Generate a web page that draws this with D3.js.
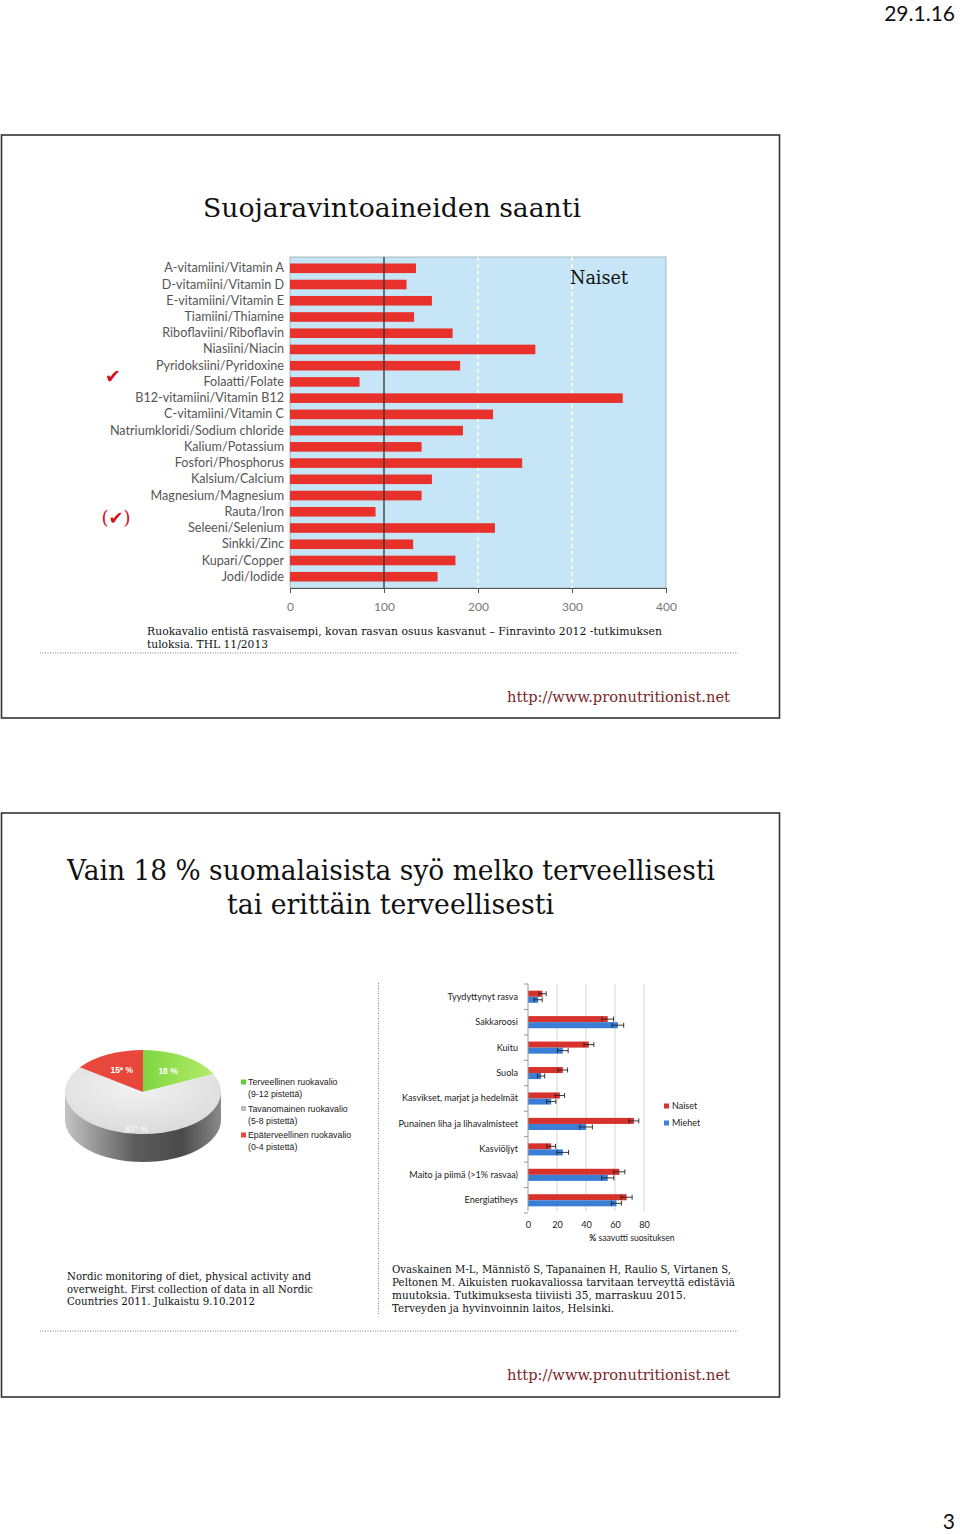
<!DOCTYPE html>
<html><head><meta charset="utf-8">
<script src="https://cdn.jsdelivr.net/npm/d3@7/dist/d3.min.js"></script>
<style>body{margin:0;background:#fff}svg{display:block}</style>
</head><body>
<svg id="c" width="960" height="1534"></svg>
<script>
// ---------- DATA ----------
const nutrients = ["A-vitamiini/Vitamin A","D-vitamiini/Vitamin D","E-vitamiini/Vitamin E","Tiamiini/Thiamine",
  "Riboflaviini/Riboflavin","Niasiini/Niacin","Pyridoksiini/Pyridoxine","Folaatti/Folate",
  "B12-vitamiini/Vitamin B12","C-vitamiini/Vitamin C","Natriumkloridi/Sodium chloride","Kalium/Potassium",
  "Fosfori/Phosphorus","Kalsium/Calcium","Magnesium/Magnesium","Rauta/Iron","Seleeni/Selenium",
  "Sinkki/Zinc","Kupari/Copper","Jodi/Iodide"];
const intake = [134,124,151,132,173,261,181,74,354,216,184,140,247,151,140,91,218,131,176,157];
const intakeTicks = [0,100,200,300,400];

const foodCats = ["Tyydyttynyt rasva","Sakkaroosi","Kuitu","Suola","Kasvikset, marjat ja hedelmät",
  "Punainen liha ja lihavalmisteet","Kasviöljyt","Maito ja piimä (>1% rasvaa)","Energiatiheys"];
const naiset = [10,55,42,24,22,73,16,63,68];
const miehet = [7,62,24,9,16,40,24,55,61];
const naisetErr = [2.5,4,3.4,3.3,3.2,3.4,3,3.8,3.8];
const miehetErr = [2.8,4,3.7,2.5,3.2,4.4,4,4.2,3.4];
const foodTicks = [0,20,40,60,80];
const seriesNames = ["Naiset","Miehet"];

const pieValues = [18,67,15];
const pieLabels = ["18 %","67* %","15* %"];
const pieLegend = [["Terveellinen ruokavalio","(9-12 pistettä)"],
                   ["Tavanomainen ruokavalio","(5-8 pistettä)"],
                   ["Epäterveellinen ruokavalio","(0-4 pistettä)"]];

// ---------- HELPERS ----------
const svg = d3.select("#c");
const SERIF = "'DejaVu Serif', 'Liberation Serif', serif";
const SANS = "Lato, 'Open Sans', sans-serif";
const NARROW = "'Liberation Sans Narrow', 'Liberation Sans', sans-serif";
function fit(g, x, y, str, len, size, opts = {}) {
  const t = g.append("text").attr("x", x).attr("y", y).text(str)
    .attr("font-family", opts.family || SERIF).attr("font-size", size)
    .attr("fill", opts.fill || "#111").attr("dy", "0.35em");
  if (len) t.attr("textLength", len).attr("lengthAdjust", "spacingAndGlyphs");
  return t;
}

const defs = svg.append("defs");

// page header / footer
svg.append("text").attr("x", 955).attr("y", 14).attr("dy","0.35em").attr("text-anchor","end")
  .attr("font-family", SANS).attr("font-size", 21).attr("fill","#111").text("29.1.16");
svg.append("text").attr("x", 955).attr("y", 1522).attr("dy","0.35em").attr("text-anchor","end")
  .attr("font-family", SANS).attr("font-size", 21).attr("fill","#111").text("3");

// slide frames
[[135,718],[813,1397]].forEach(([t,b]) => {
  svg.append("rect").attr("x",1.5).attr("y",t).attr("width",778).attr("height",b-t)
    .attr("fill","#fff").attr("stroke","#333").attr("stroke-width",1.6);
});
[653,1331].forEach(y => svg.append("line").attr("x1",40).attr("x2",738).attr("y1",y).attr("y2",y)
  .attr("stroke","#777").attr("stroke-width",1).attr("stroke-dasharray","1,1.5"));

// ---------- SLIDE 1 ----------
const s1 = svg.append("g");
fit(s1, 203, 208, "Suojaravintoaineiden saanti", 378, 26);

const x1 = d3.scaleLinear().domain([0,400]).range([290,666]);
const y1 = d3.scaleBand().domain(nutrients).range([257,588]).paddingInner(0.41).paddingOuter(0.4);

s1.append("rect").attr("x", x1(0)).attr("y",257).attr("width", x1(400)-x1(0)).attr("height",331)
  .attr("fill","#c6e5f6").attr("stroke","#9aa").attr("stroke-width",0.8);
// dashed white grid
s1.selectAll(".g1").data([200,300]).join("line")
  .attr("x1",d=>x1(d)).attr("x2",d=>x1(d)).attr("y1",257).attr("y2",588)
  .attr("stroke","#fff").attr("stroke-width",1.5).attr("stroke-dasharray","4,3");
// bars
s1.selectAll(".bar1").data(nutrients).join("rect")
  .attr("x", x1(0)).attr("y", d=>y1(d)).attr("height", y1.bandwidth())
  .attr("width", (d,i)=>x1(intake[i])-x1(0)).attr("fill","#e8312b");
// 100 line
s1.append("line").attr("x1",x1(100)).attr("x2",x1(100)).attr("y1",257).attr("y2",588)
  .attr("stroke","#333").attr("stroke-width",1.3);
// axes
const ax1 = s1.append("g").attr("transform","translate(0,588)")
  .call(d3.axisBottom(x1).tickValues(intakeTicks).tickSize(5).tickPadding(9));
ax1.select(".domain").attr("stroke","#555");
ax1.selectAll(".tick line").attr("stroke","#555");
ax1.selectAll("text").attr("font-family",SANS).attr("font-size",12).attr("fill","#777");
const ay1 = s1.append("g").attr("transform","translate(284,0)")
  .call(d3.axisLeft(y1).tickSize(0).tickPadding(0));
ay1.select(".domain").remove();
ay1.selectAll("text").attr("font-family",SANS).attr("font-size",12.6).attr("fill","#555");

fit(s1, 570, 278, "Naiset", 58, 18);
// checkmarks
s1.append("text").attr("x",113).attr("y",376).attr("dy","0.35em").attr("text-anchor","middle")
  .attr("font-family","'DejaVu Sans'").attr("font-size",19).attr("fill","#d0101a").text("✔");
s1.append("text").attr("x",116).attr("y",518).attr("dy","0.35em").attr("text-anchor","middle")
  .attr("font-family",SERIF).attr("font-size",18).attr("fill","#d0101a")
  .html('(<tspan font-family="DejaVu Sans">✔</tspan>)');

fit(s1, 147, 631, "Ruokavalio entistä rasvaisempi, kovan rasvan osuus kasvanut – Finravinto 2012 -tutkimuksen", 515, 11);
fit(s1, 147, 644, "tuloksia. THL 11/2013", 121, 11);
fit(s1, 507, 697, "http://www.pronutritionist.net", 223, 15, {fill:"#7a2626"});

// ---------- SLIDE 2 ----------
const s2 = svg.append("g");
fit(s2, 67, 870, "Vain 18 % suomalaisista syö melko terveellisesti", 648, 28);
fit(s2, 227, 904, "tai erittäin terveellisesti", 327, 28);

s2.append("line").attr("x1",378.5).attr("x2",378.5).attr("y1",983).attr("y2",1315)
  .attr("stroke","#888").attr("stroke-dasharray","1,1.5");

// pie
const cx = 143, cy = 1092, rx = 78, ry = 42, depth = 28;
const sideGrad = defs.append("linearGradient").attr("id","side").attr("x1","0").attr("x2","1");
[["0%","#c4c4c4"],["45%","#5c5c5c"],["75%","#4a4a4a"],["100%","#8a8a8a"]]
  .forEach(([o,c])=>sideGrad.append("stop").attr("offset",o).attr("stop-color",c));
const topGrad = defs.append("radialGradient").attr("id","grayTop").attr("cx","0.45").attr("cy","0.3").attr("r","0.8");
[["0%","#f2f2f2"],["100%","#d8d8d8"]].forEach(([o,c])=>topGrad.append("stop").attr("offset",o).attr("stop-color",c));
const greenGrad = defs.append("linearGradient").attr("id","greenTop").attr("x1","0").attr("x2","1").attr("y1","0").attr("y2","0");
[["0%","#7fd640"],["100%","#b4ec6a"]].forEach(([o,c])=>greenGrad.append("stop").attr("offset",o).attr("stop-color",c));

s2.append("path")
  .attr("d", `M${cx-rx},${cy} L${cx-rx},${cy+depth} A${rx},${ry} 0 0 0 ${cx+rx},${cy+depth} L${cx+rx},${cy} Z`)
  .attr("fill","url(#side)");
const pieColors = ["url(#greenTop)","url(#grayTop)","#e8473c"];
const pie = d3.pie().sort(null)(pieValues);
const arc = d3.arc().innerRadius(0).outerRadius(rx);
const pg = s2.append("g").attr("transform",`translate(${cx},${cy}) scale(1,${ry/rx})`);
pg.selectAll("path").data(pie).join("path").attr("d",arc).attr("fill",(d,i)=>pieColors[i]);
const labelR = [0.6,0.88,0.6];
pie.forEach((d,i)=>{
  const a = (d.startAngle+d.endAngle)/2, r = rx*labelR[i];
  s2.append("text").attr("x", cx + r*Math.sin(a)).attr("y", cy - r*Math.cos(a)*ry/rx)
    .attr("dy","0.35em").attr("text-anchor","middle").attr("font-family",NARROW)
    .attr("font-weight","bold").attr("font-size",8.5).attr("fill", i===1?"#f4f4f4":"#fff").text(pieLabels[i]);
});
const legColors = ["#5bcf3a","#bdbdbd","#e8473c"];
pieLegend.forEach((l,i)=>{
  const y0 = 1082 + i*26.5;
  s2.append("rect").attr("x",241).attr("y",y0-2.5).attr("width",5).attr("height",5).attr("fill",legColors[i]);
  fit(s2, 248, y0, l[0], null, 8.8, {family:NARROW, fill:"#222"});
  fit(s2, 248, y0+12, l[1], null, 8.8, {family:NARROW, fill:"#222"});
});

// grouped bars
const x2 = d3.scaleLinear().domain([0,80]).range([528,644]);
const y2 = d3.scaleBand().domain(foodCats).range([984,1213]);
const sub = d3.scaleBand().domain(seriesNames).range([0,y2.bandwidth()]).paddingOuter(1.1);
s2.selectAll(".g2").data(foodTicks.slice(1)).join("line")
  .attr("x1",d=>x2(d)).attr("x2",d=>x2(d)).attr("y1",984).attr("y2",1211)
  .attr("stroke","#d4d4d4").attr("stroke-width",1);
const series = [{name:"Naiset",vals:naiset,err:naisetErr,color:"#d8322d"},
                {name:"Miehet",vals:miehet,err:miehetErr,color:"#3a7ed6"}];
series.forEach(s=>{
  const g = s2.append("g");
  g.selectAll("rect").data(foodCats).join("rect")
    .attr("x",x2(0)).attr("y",d=>y2(d)+sub(s.name)).attr("height",sub.bandwidth())
    .attr("width",(d,i)=>x2(s.vals[i])-x2(0)).attr("fill",s.color);
  foodCats.forEach((c,i)=>{
    const yc = y2(c)+sub(s.name)+sub.bandwidth()/2;
    const a = x2(s.vals[i]-s.err[i]), b = x2(s.vals[i]+s.err[i]);
    g.append("path").attr("d",`M${a},${yc}H${b}M${a},${yc-2.5}V${yc+2.5}M${b},${yc-2.5}V${yc+2.5}`)
      .attr("stroke","#222").attr("stroke-width",0.9).attr("fill","none");
  });
});
s2.append("line").attr("x1",x2(0)).attr("x2",x2(0)).attr("y1",984).attr("y2",1211).attr("stroke","#999");
s2.selectAll(".ct").data(foodCats.concat(["_end"])).join("line")
  .attr("x1",x2(0)-4).attr("x2",x2(0)).attr("y1",(d,i)=>984+i*y2.step()).attr("y2",(d,i)=>984+i*y2.step())
  .attr("stroke","#999");
const ay2 = s2.append("g").attr("transform","translate(518,0)").call(d3.axisLeft(y2).tickSize(0).tickPadding(0));
ay2.select(".domain").remove();
ay2.selectAll("text").attr("font-family",SANS).attr("font-size",9.1).attr("fill","#222");
const ax2 = s2.append("g").attr("transform","translate(0,1213)")
  .call(d3.axisBottom(x2).tickValues(foodTicks).tickSize(0).tickPadding(8));
ax2.select(".domain").remove();
ax2.selectAll("text").attr("font-family",SANS).attr("font-size",9.2).attr("fill","#222");
s2.append("text").attr("x",632).attr("y",1238).attr("dy","0.35em").attr("text-anchor","middle")
  .attr("font-family",SANS).attr("font-size",8.6).attr("fill","#222")
  .html('<tspan font-weight="bold">%</tspan> saavutti suosituksen');
series.forEach((s,i)=>{
  const y0 = 1106 + i*17;
  s2.append("rect").attr("x",664).attr("y",y0-2.5).attr("width",5).attr("height",5).attr("fill",s.color);
  s2.append("text").attr("x",672).attr("y",y0).attr("dy","0.35em").attr("font-family",SANS)
    .attr("font-size",9).attr("fill","#222").text(s.name);
});

// footnotes
fit(s2, 67, 1276, "Nordic monitoring of diet, physical activity and", 244, 11);
fit(s2, 67, 1289, "overweight. First collection of data in all Nordic", 246, 11);
fit(s2, 67, 1301, "Countries 2011. Julkaistu 9.10.2012", 188, 11);
fit(s2, 392, 1269, "Ovaskainen M-L, Männistö S, Tapanainen H, Raulio S, Virtanen S,", 339, 11);
fit(s2, 392, 1282, "Peltonen M. Aikuisten ruokavaliossa tarvitaan terveyttä edistäviä", 343, 11);
fit(s2, 392, 1295, "muutoksia. Tutkimuksesta  tiiviisti 35, marraskuu 2015.", 294, 11);
fit(s2, 392, 1308, "Terveyden ja hyvinvoinnin laitos, Helsinki.", 222, 11);
fit(s2, 507, 1375, "http://www.pronutritionist.net", 223, 15, {fill:"#7a2626"});
</script>
</body></html>
